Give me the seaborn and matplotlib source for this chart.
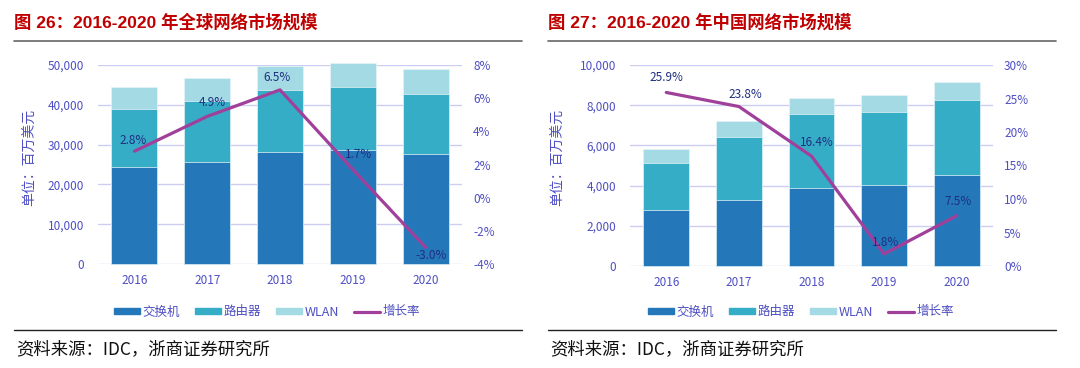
import matplotlib
matplotlib.use("Agg")
import matplotlib.pyplot as plt
import seaborn as sns
import pandas as pd
import numpy as np
from matplotlib.patches import Patch
from matplotlib.lines import Line2D
from matplotlib.ticker import FuncFormatter

sns.set_theme(style="white")
plt.rcParams['font.family'] = ['Noto Sans CJK SC', 'DejaVu Sans']

years = ["2016", "2017", "2018", "2019", "2020"]

# Global market (million USD)
g_switch = [24300, 25600, 28100, 28700, 27700]
g_router = [14700, 15400, 15500, 15700, 15100]
g_wlan = [5400, 5700, 6200, 6100, 6200]
g_growth = [2.8, 4.9, 6.5, 1.7, -3.0]

# China market (million USD)
c_switch = [2800, 3280, 3860, 4040, 4520]
c_router = [2330, 3160, 3720, 3630, 3760]
c_wlan = [680, 750, 800, 820, 880]
c_growth = [25.9, 23.8, 16.4, 1.8, 7.5]

titles = ["图 26：2016-2020 年全球网络市场规模", "图 27：2016-2020 年中国网络市场规模"]
series_names = ["交换机", "路由器", "WLAN", "增长率"]
source = "资料来源：IDC，浙商证券研究所"

C_SWITCH = "#2478BA"
C_ROUTER = "#36ADC7"
C_WLAN = "#A3DAE4"
C_LINE = "#A0409A"
C_TICK = "#4F4FC4"
C_GRID = "#CDCDF3"
C_ANN = "#1F2F80"

fig = plt.figure(figsize=(10.8, 3.68), dpi=100)
W, H = 1080, 368

def px(x, y, w, h):
    return [x / W, 1 - (y + h) / H, w / W, h / H]

panels = [
    dict(sw=g_switch, rt=g_router, wl=g_wlan, gr=g_growth, rect=px(98, 65, 364, 199),
         ylim=(0, 50000), yt=np.arange(0, 50001, 10000), y2=(-4, 8), y2t=np.arange(-4, 8.1, 2),
         offs=[(-1, 8), (4, 10), (-2, 9), (4, 11), (4, -6)], x0=14, ylab_x=30,
         leg_x=267),
    dict(sw=c_switch, rt=c_router, wl=c_wlan, gr=c_growth, rect=px(630, 65, 363, 201),
         ylim=(0, 10000), yt=np.arange(0, 10001, 2000), y2=(0, 30), y2t=np.arange(0, 30.1, 5),
         offs=[(0, 11), (5, 9), (4, 10), (1, 8), (1, 10)], x0=548, ylab_x=558,
         leg_x=801),
]

for i, p in enumerate(panels):
    ax = fig.add_axes(p["rect"])
    df = pd.DataFrame({"year": years, "switch": p["sw"], "router": p["rt"], "wlan": p["wl"]})
    df["sr"] = df["switch"] + df["router"]
    df["total"] = df["sr"] + df["wlan"]
    for col, c in [("total", C_WLAN), ("sr", C_ROUTER), ("switch", C_SWITCH)]:
        sns.barplot(data=df, x="year", y=col, color=c, width=0.63, ax=ax,
                    saturation=1, edgecolor="#E6F4F8", linewidth=0.5)
    for patch in ax.patches:
        patch.set_clip_on(False)
    ax.set_ylim(*p["ylim"])
    ax.set_xlim(-0.5, 4.5)
    ax.set_yticks(p["yt"])
    ax.yaxis.set_major_formatter(FuncFormatter(lambda v, _: f"{int(v):,}"))
    ax.set_xlabel("")
    ax.set_ylabel("")
    for v in p["yt"]:
        ax.axhline(v, color=C_GRID, lw=1.0, zorder=0)
    ax.set_axisbelow(True)
    for s in ax.spines.values():
        s.set_visible(False)
    ax.tick_params(axis="both", length=0, labelsize=8.5, labelcolor=C_TICK)
    ax.tick_params(axis="y", pad=10)
    ax.tick_params(axis="x", pad=7)

    ax2 = ax.twinx()
    sns.lineplot(x=np.arange(5), y=p["gr"], color=C_LINE, lw=2.3, ax=ax2)
    ax2.set_ylim(*p["y2"])
    ax2.set_yticks(p["y2t"])
    ax2.yaxis.set_major_formatter(FuncFormatter(lambda v, _: f"{v:.0f}%"))
    ax2.grid(False)
    for s in ax2.spines.values():
        s.set_visible(False)
    ax2.tick_params(axis="y", length=0, labelsize=8.5, labelcolor=C_TICK, pad=8)
    for k, (g, off) in enumerate(zip(p["gr"], p["offs"])):
        ax2.annotate(f"{g:.1f}%", (k, g), xytext=off, textcoords="offset points",
                     ha="center", va="center", fontsize=8.5, color=C_ANN)

    fig.text(p["ylab_x"] / W, 1 - 157 / H, "单位：百万美元", rotation=90, ha="center",
             va="center", fontsize=10, color=C_TICK)

    # title + rules
    fig.text(p["x0"] / W, 1 - 22 / H, titles[i], ha="left", va="center", fontsize=12.5,
             fontweight="bold", color="#C00000",
             family=["Liberation Sans", "Noto Sans CJK SC"])
    fig.add_artist(Line2D([p["x0"] / W, (p["x0"] + 508) / W], [1 - 41 / H] * 2,
                          color="#666666", lw=1.2))
    fig.add_artist(Line2D([p["x0"] / W, (p["x0"] + 508) / W], [1 - 330 / H] * 2,
                          color="#222222", lw=1.0))
    fig.text((p["x0"] + 2) / W, 1 - 349 / H, source, ha="left", va="center", fontsize=12.5,
             color="#111111")

    handles = [Patch(color=C_SWITCH), Patch(color=C_ROUTER), Patch(color=C_WLAN),
               Line2D([0], [0], color=C_LINE, lw=2.3)]
    fig.legend(handles, series_names, loc="center", bbox_to_anchor=(p["leg_x"] / W, 1 - 312 / H),
               ncol=4, frameon=False, fontsize=9, labelcolor=C_TICK,
               handlelength=2.1, handleheight=0.45, handletextpad=0.2, columnspacing=1.2)

fig.savefig("out.png", dpi=100)
